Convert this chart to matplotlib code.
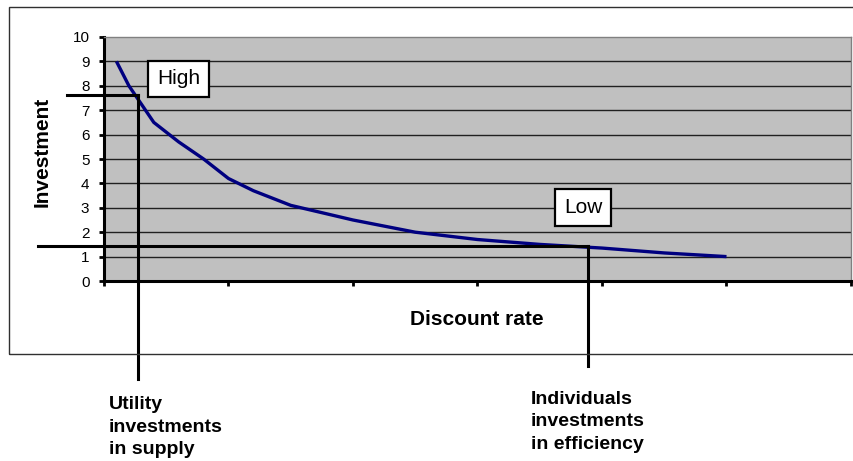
import matplotlib.pyplot as plt
from matplotlib.patches import Rectangle

plt.rcParams['font.family'] = ['Liberation Sans', 'DejaVu Sans']

# investment curve against discount rate
rate = [1, 2, 4, 6, 8, 10, 12, 15, 20, 25, 30, 35, 40, 45, 50]
investment = [9, 8.0, 6.5, 5.7, 5.0, 4.2, 3.7, 3.1, 2.5, 2.0, 1.7, 1.5, 1.35, 1.15, 1.0]

y_ticks = [0, 1, 2, 3, 4, 5, 6, 7, 8, 9, 10]
x_ticks = [0, 10, 20, 30, 40, 50, 60]

# marker lines: (rate, investment) where each guide meets the curve
high_point = (2.75, 7.62)
low_point = (38.85, 1.45)

fig = plt.figure(figsize=(8.54, 4.61), dpi=100)
fig.patch.set_facecolor('white')

# outer chart frame
fig.patches.append(Rectangle((9.5 / 854, 1 - 354 / 461), 1.0, 346.5 / 461,
                             transform=fig.transFigure, fill=False,
                             edgecolor='#303030', linewidth=1.0))

ax = fig.add_axes([104 / 854, 1 - 281 / 461, 747 / 854, 244 / 461])
ax.set_facecolor('#c0c0c0')
ax.set_xlim(0, 60)
ax.set_ylim(0, 10)

for v in y_ticks[1:-1]:
    ax.axhline(v, color='#202020', linewidth=1.0, zorder=1)

ax.plot(rate, investment, color='#000080', linewidth=2.4, zorder=3,
        solid_capstyle='butt')

ax.set_yticks(y_ticks)
ax.set_yticklabels([str(v) for v in y_ticks], fontsize=11)
ax.set_xticks(x_ticks)
ax.set_xticklabels([])
ax.tick_params(axis='y', direction='out', length=3.5, width=2, pad=7)
ax.tick_params(axis='x', direction='out', length=3.5, width=2)

ax.spines['left'].set_linewidth(2.2)
ax.spines['bottom'].set_linewidth(2.2)
ax.spines['top'].set_color('#808080')
ax.spines['right'].set_color('#808080')
ax.spines['top'].set_linewidth(1.0)
ax.spines['right'].set_linewidth(1.0)

# guide lines reaching out of the plot
hx, hy = high_point
ax.plot([-2.97, hx], [hy, hy], color='black', linewidth=2.2,
        clip_on=False, zorder=4)
ax.plot([hx, hx], [hy, -4.02], color='black', linewidth=2.2,
        clip_on=False, zorder=4)
lx, ly = low_point
ax.plot([-5.3, lx], [ly, ly], color='black', linewidth=2.2,
        clip_on=False, zorder=4)
ax.plot([lx, lx], [ly, -3.47], color='black', linewidth=2.2,
        clip_on=False, zorder=4)

box = dict(boxstyle='square,pad=0.42', facecolor='white',
           edgecolor='black', linewidth=1.6)
ax.text(6.0, 8.28, 'High', fontsize=15, ha='center', va='center',
        bbox=box, zorder=5)
ax.text(38.5, 3.02, 'Low', fontsize=15, ha='center', va='center',
        bbox=box, zorder=5)

fig.text(42.5 / 854, 1 - 152 / 461, 'Investment', rotation=90,
         fontsize=15, fontweight='bold', ha='center', va='center')
fig.text(477 / 854, 1 - 319 / 461, 'Discount rate',
         fontsize=15, fontweight='bold', ha='center', va='center')

fig.text(109 / 854, 1 - 427 / 461, 'Utility\ninvestments\nin supply',
         fontsize=14, fontweight='bold', ha='left', va='center',
         linespacing=1.4)
fig.text(531 / 854, 1 - 422 / 461, 'Individuals\ninvestments\nin efficiency',
         fontsize=14, fontweight='bold', ha='left', va='center',
         linespacing=1.4)

fig.savefig('out.png', dpi=100)
